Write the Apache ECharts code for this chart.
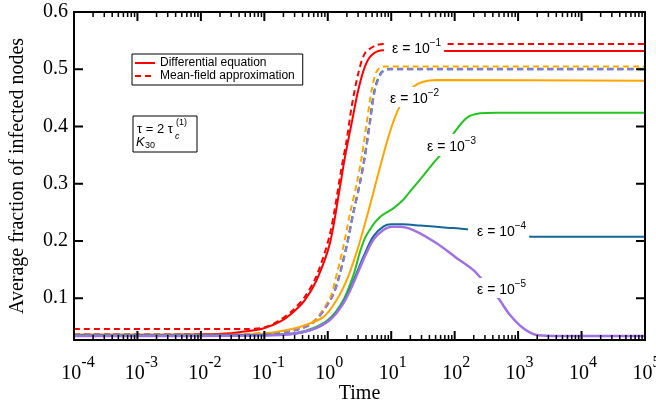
<!DOCTYPE html>
<html>
<head>
<meta charset="utf-8">
<script src="https://cdn.jsdelivr.net/npm/echarts@6/dist/echarts.min.js"></script>
<style>
  html, body { margin: 0; padding: 0; background: #fff; }
  .demo { width: 656px; height: 408px; }
</style>
</head>
<body>
<div class="demo"></div>
<script>
// [time, fraction]
const redDE = [[1e-4,0.036],[1e-3,0.036],[1e-2,0.037],[0.03,0.039],[0.06,0.043],[0.096,0.047],[0.177,0.059],[0.287,0.076],[0.438,0.097],[0.67,0.132],[1.08,0.196],[1.56,0.295],[1.87,0.347],[2.38,0.406],[3.03,0.464],[3.86,0.505],[4.93,0.525],[7.5,0.533],[20,0.532],[1e5,0.532]]
const redMF = [[1e-4,0.046],[0.05,0.046],[0.1,0.049],[0.177,0.062],[0.287,0.080],[0.438,0.103],[0.67,0.140],[1.08,0.212],[1.66,0.330],[1.99,0.377],[2.38,0.435],[3.03,0.493],[3.86,0.528],[5.56,0.541],[7.5,0.544],[20,0.544],[1e5,0.544]]
const orangeMF = [[1e-4,0.037],[0.01,0.037],[0.1,0.039],[0.3,0.045],[0.6,0.060],[1.08,0.100],[1.3,0.130],[1.76,0.190],[2.24,0.248],[2.86,0.300],[3.43,0.347],[4.11,0.406],[4.93,0.464],[5.9,0.496],[7.5,0.505],[20,0.505],[1e5,0.505]]
const greenMF = [[1e-4,0.037],[0.01,0.037],[0.1,0.038],[0.3,0.044],[0.6,0.059],[1.13,0.100],[1.45,0.132],[1.96,0.190],[2.5,0.248],[3.18,0.300],[3.8,0.347],[4.55,0.406],[5.45,0.464],[6.9,0.494],[9.3,0.501],[30,0.501],[1e5,0.501]]
const blueMF = [[1e-4,0.037],[0.01,0.037],[0.1,0.038],[0.3,0.044],[0.6,0.058],[1.14,0.100],[1.46,0.132],[1.97,0.190],[2.52,0.248],[3.2,0.300],[3.83,0.347],[4.6,0.406],[5.5,0.464],[7.0,0.494],[9.4,0.500],[30,0.500],[1e5,0.500]]
const purpleMF = [[1e-4,0.037],[0.01,0.037],[0.1,0.038],[0.3,0.044],[0.6,0.058],[1.15,0.100],[1.47,0.132],[1.99,0.190],[2.53,0.248],[3.22,0.300],[3.86,0.347],[4.63,0.406],[5.56,0.464],[7.08,0.494],[9.57,0.500],[30,0.500],[1e5,0.500]]
const orangeDE = [[1e-4,0.036],[0.01,0.036],[0.1,0.038],[0.197,0.043],[0.365,0.050],[0.85,0.067],[1.38,0.097],[2.08,0.137],[3.0,0.188],[4.01,0.237],[5.36,0.289],[7.16,0.342],[9.57,0.391],[12.8,0.429],[17.1,0.455],[22.1,0.469],[31.7,0.478],[52.7,0.481],[1e5,0.480]]
const greenDE = [[1e-4,0.035],[0.01,0.035],[0.1,0.036],[0.3,0.039],[0.6,0.048],[1.08,0.065],[1.76,0.097],[2.53,0.140],[3.2,0.180],[3.86,0.205],[4.63,0.220],[5.5,0.232],[6.66,0.242],[8.5,0.250],[10.8,0.257],[15.5,0.272],[20,0.287],[28.4,0.307],[46.1,0.336],[62.5,0.353],[80,0.373],[101,0.391],[155,0.415],[251,0.423],[460,0.424],[1e5,0.424]]
const blueDE = [[1e-4,0.035],[0.01,0.035],[0.1,0.036],[0.3,0.038],[0.6,0.046],[1.08,0.063],[1.76,0.093],[2.53,0.130],[3.63,0.172],[5.22,0.208],[7.5,0.225],[10,0.229],[15,0.229],[28.4,0.227],[75,0.2233],[155,0.2205],[300,0.216],[600,0.211],[1000,0.2085],[1640,0.2075],[1e5,0.2075]]
const purpleDE = [[1e-4,0.034],[0.01,0.034],[0.1,0.035],[0.2,0.036],[0.525,0.044],[1.08,0.062],[1.76,0.091],[2.53,0.126],[3.63,0.167],[5.22,0.202],[7.5,0.219],[10.2,0.225],[13.8,0.225],[22.3,0.219],[52,0.196],[108,0.170],[197,0.149],[300,0.127],[488,0.0998],[746,0.0706],[1208,0.0474],[1966,0.0357],[5160,0.034],[1e5,0.034]]

const yTicks = [0.1, 0.2, 0.3, 0.4, 0.5, 0.6]
const epsExps = ['−1', '−2', '−3', '−4', '−5']

;(function(){
  const chartinstance = echarts.init(document.querySelector('.demo'))
  const serif = 'Liberation Serif'
  const sans = 'Liberation Sans'
  const X_MIN = 1e-4, X_MAX = 1e5, Y_MIN = 0.027, Y_MAX = 0.6
  const G = { left: 74, right: 11, top: 12, bottom: 68 }
  const plotW = 656 - G.left - G.right
  const plotH = 408 - G.top - G.bottom

  // decade ticks and 2..9 sub-decade ticks
  const majorTicks = []
  const minorTicks = []
  for (let n = -4; n <= 5; n++) {
    majorTicks.push(Math.pow(10, n))
    if (n < 5) for (let k = 2; k <= 9; k++) minorTicks.push(k * Math.pow(10, n))
  }

  const line = (name, data, color, dashed, width) => ({
    name: name,
    type: 'line',
    data: data,
    showSymbol: false,
    symbol: 'none',
    smooth: 0.3,
    silent: true,
    itemStyle: { color: color },
    lineStyle: { color: color, width: width || 2, type: dashed ? [6, 4] : 'solid' }
  })

  // black polylines for the frame and the inward ticks; the comb runs back along
  // the frame edge between teeth, so only the teeth show
  const ink = (data, width) => ({
    name: 'frame',
    type: 'line',
    data: data,
    showSymbol: false,
    symbol: 'none',
    silent: true,
    clip: false,
    z: 5,
    itemStyle: { color: '#000' },
    lineStyle: { color: '#000', width: width, cap: 'square' }
  })
  const dy = px => px * (Y_MAX - Y_MIN) / plotH
  const dxFactor = px => Math.pow(10, px * Math.log10(X_MAX / X_MIN) / plotW)
  const combX = (ticks, y, d) => {
    const out = []
    ticks.forEach(t => { out.push([t, y], [t, y + d], [t, y]) })
    return out
  }
  const combY = (ticks, x, f) => {
    const out = []
    ticks.forEach(v => { out.push([x, v], [x * f, v], [x, v]) })
    return out
  }
  const frameData = [[X_MIN, Y_MIN], [X_MAX, Y_MIN], [X_MAX, Y_MAX], [X_MIN, Y_MAX], [X_MIN, Y_MIN]]

  // epsilon labels sit on white boxes that break the curves
  const epsPos = [
    { x: 384, y: 47, pad: [1, 3, 1, 8] },
    { x: 388, y: 97, pad: [1, 3, 1, 2] },
    { x: 425, y: 145, pad: [2, 3, 2, 2] },
    { x: 468, y: 230, pad: [1, 3, 1, 9] },
    { x: 475, y: 288, pad: [1, 3, 1, 2] }
  ]
  const epsGraphics = epsPos.map((p, i) => ({
    type: 'text',
    x: p.x,
    y: p.y,
    z: 100,
    style: {
      text: '{b|ε = 10}{s|' + epsExps[i] + '}',
      verticalAlign: 'middle',
      backgroundColor: '#fff',
      padding: p.pad,
      rich: {
        b: { fontFamily: sans, fontSize: 14, fill: '#000', lineHeight: 18, verticalAlign: 'bottom' },
        s: { fontFamily: sans, fontSize: 10, fill: '#000', lineHeight: 10, verticalAlign: 'top' }
      }
    }
  }))

  const noteGraphics = [
    {
      type: 'rect',
      z: 100,
      shape: { x: 133, y: 116, width: 64, height: 36 },
      style: { fill: '#fff', stroke: '#000', lineWidth: 1 }
    },
    { type: 'text', z: 101, x: 137, y: 129, style: { text: 'τ = 2 τ', fontFamily: sans, fontSize: 13, fill: '#000', verticalAlign: 'middle' } },
    { type: 'text', z: 101, x: 176, y: 123, style: { text: '(1)', fontFamily: sans, fontSize: 9, fill: '#000', verticalAlign: 'middle' } },
    { type: 'text', z: 101, x: 175, y: 136, style: { text: 'c', fontFamily: sans, fontStyle: 'italic', fontSize: 9, fill: '#000', verticalAlign: 'middle' } },
    { type: 'text', z: 101, x: 136, y: 142, style: { text: 'K', fontFamily: sans, fontStyle: 'italic', fontSize: 13, fill: '#000', verticalAlign: 'middle' } },
    { type: 'text', z: 101, x: 145, y: 146, style: { text: '30', fontFamily: sans, fontSize: 9, fill: '#000', verticalAlign: 'middle' } }
  ]

  const option = {
    backgroundColor: '#fff',
    animation: false,
    grid: { left: G.left, right: G.right, top: G.top, bottom: G.bottom, outerBoundsMode: 'none' },
    legend: {
      data: ['Differential equation', 'Mean-field approximation'],
      orient: 'vertical',
      left: 132,
      top: 54,
      padding: [3, 8, 3, 2],
      itemGap: 1,
      itemWidth: 20,
      itemHeight: 12,
      borderColor: '#000',
      borderWidth: 1,
      borderRadius: 0,
      backgroundColor: '#fff',
      selectedMode: false,
      itemStyle: { opacity: 0 },
      textStyle: { fontFamily: sans, fontSize: 12, color: '#000' }
    },
    xAxis: {
      type: 'log',
      logBase: 10,
      min: X_MIN,
      max: X_MAX,
      splitNumber: 9,
      axisLine: { show: true, onZero: false, lineStyle: { color: '#000', width: 2 } },
      axisTick: { show: false },
      splitLine: { show: false },
      name: 'Time',
      nameLocation: 'middle',
      nameGap: 44,
      nameMoveOverlap: false,
      nameTextStyle: { fontFamily: serif, fontSize: 20, color: '#000' },
      axisLabel: {
        showMinLabel: true,
        showMaxLabel: true,
        margin: 15,
        formatter: v => {
          const e = Math.round(Math.log10(v))
          return '{' + (e < 0 ? 'n' : 'p') + '|}{b|10}{s|' + e + '}'
        },
        rich: {
          n: { width: 8 },
          p: { width: 3 },
          b: { fontFamily: serif, fontSize: 20, color: '#000', lineHeight: 29, verticalAlign: 'bottom' },
          s: { fontFamily: serif, fontSize: 16, color: '#000', lineHeight: 16, verticalAlign: 'top' }
        }
      }
    },
    yAxis: {
      type: 'value',
      min: Y_MIN,
      max: Y_MAX,
      axisLine: { show: true, onZero: false, lineStyle: { color: '#000', width: 2 } },
      axisTick: { show: false },
      splitLine: { show: false },
      name: 'Average fraction of infected nodes',
      nameLocation: 'middle',
      nameGap: 46,
      nameMoveOverlap: false,
      nameTextStyle: { fontFamily: serif, fontSize: 20, color: '#000' },
      axisLabel: {
        customValues: yTicks,
        margin: 6,
        formatter: v => v.toFixed(1),
        fontFamily: serif,
        fontSize: 20,
        color: '#000'
      }
    },
    series: [
      line('g-mf', greenMF, '#22c422', true),
      line('b-mf', blueMF, '#15699a', true),
      line('o-mf', orangeMF, '#ffa500', true),
      line('p-mf', purpleMF, '#9a78e0', true),
      line('Mean-field approximation', redMF, '#ff0000', true),
      line('Differential equation', redDE, '#ff0000', false),
      line('o-de', orangeDE, '#ffa500', false),
      line('g-de', greenDE, '#22c422', false),
      line('b-de', blueDE, '#15699a', false),
      line('p-de', purpleDE, '#a070e6', false, 2.5),
      ink(combX(minorTicks, Y_MIN, dy(5)), 1.5),
      ink(combX(minorTicks, Y_MAX, -dy(5)), 1.5),
      ink(combX(majorTicks, Y_MIN, dy(9)), 2),
      ink(combX(majorTicks, Y_MAX, -dy(9)), 2),
      ink(combY(yTicks, X_MIN, dxFactor(9)), 2),
      ink(combY(yTicks, X_MAX, 1 / dxFactor(9)), 2),
      ink(frameData, 2)
    ],
    graphic: noteGraphics.concat(epsGraphics)
  }
  option && chartinstance.setOption(option)

  window.addEventListener('resize', () => {
    chartinstance.resize()
  })
})();
</script>
</body>
</html>
